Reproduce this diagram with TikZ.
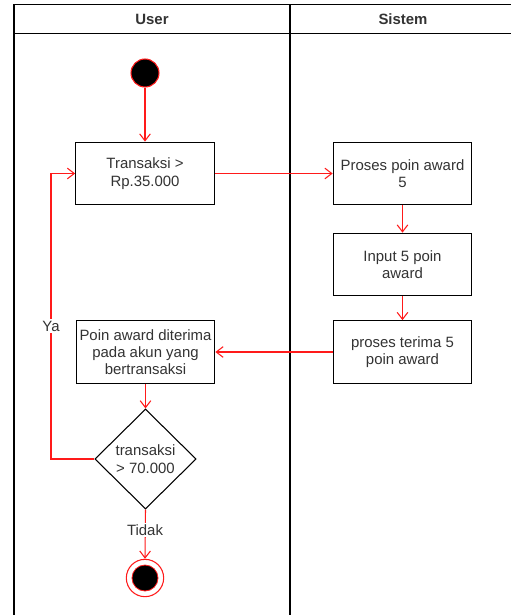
\documentclass[tikz,border=0pt]{standalone}
\usepackage{fontspec}
\setmainfont{Liberation Sans}
\usetikzlibrary{arrows.meta,shapes.geometric}
\definecolor{txt}{HTML}{333333}
\definecolor{flow}{HTML}{FF1A1A}
\begin{document}
\begin{tikzpicture}[x=0.75pt,y=-0.75pt,
  every node/.style={font=\fontsize{11.2pt}{13pt}\selectfont, text=txt},
  lane/.style={draw=black, line width=0.8pt},
  actbox/.style={draw=black, line width=0.8pt, fill=white, align=center,
    minimum width=104pt, minimum height=47pt, inner sep=2pt},
  decision/.style={draw=black, line width=0.8pt, fill=white, shape=diamond,
    aspect=1, align=center, inner sep=0pt,
    minimum width=76pt, minimum height=75pt},
  flowline/.style={draw=flow, line width=0.8pt},
  flowarrow/.style={flowline, -{Straight Barb[length=5.2pt,width=8pt,line width=0.8pt]}},
  guard/.style={fill=white, inner sep=1pt},
  lanehead/.style={font=\bfseries\fontsize{11.2pt}{13pt}\selectfont}
]
\useasboundingbox (0,0) rectangle (511,615);
\clip (0,0) rectangle (511,615);

% swimlane frame
\draw[lane] (14,640) -- (14,4.5) -- (530,4.5);
\draw[lane] (14,33.5) -- (530,33.5);
\draw[lane] (290,4.5) -- (290,640);
\node[lanehead] (hUser) at (152,19.5) {User};
\node[lanehead] (hSistem) at (403,19.5) {Sistem};

% start state
\node[circle, draw=flow, fill=black, line width=0.8pt, minimum size=21pt, inner sep=0pt] (start) at (145,73) {};

% activities
\node[actbox] (trans) at (145,173.5) {Transaksi >\\Rp.35.000};
\node[actbox] (proses) at (402.5,173.5) {Proses poin award\\5};
\node[actbox] (input) at (402.5,264.5) {Input 5 poin\\award};
\node[actbox] (terima) at (402.5,352) {proses terima 5\\poin award};
\node[actbox] (poin) at (145.5,352) {Poin award diterima\\pada akun yang\\bertransaksi};
\node[decision] (cek) at (145.5,459) {transaksi\\> 70.000};

% end state
\node[circle, draw=flow, fill=white, line width=0.8pt, minimum size=28pt, inner sep=0pt] (endo) at (145,578) {};
\node[circle, draw=flow, fill=black, line width=0.6pt, minimum size=19.5pt, inner sep=0pt] (endi) at (145,578) {};

% flow
\draw[flowarrow] (start) -- (trans);
\draw[flowarrow] (trans.east) -- (proses.west);
\draw[flowarrow] (proses) -- (input);
\draw[flowarrow] (input) -- (terima);
\draw[flowarrow] (terima.west) -- (poin.east);
\draw[flowarrow] (poin) -- (cek);

\coordinate (loopx) at (51,0);
\draw[flowarrow] (cek.west) -- (cek.west -| loopx) -- (trans.west -| loopx) -- (trans.west);
\node[guard] (ya) at (51,326) {Ya};

\draw[flowarrow] (cek.south) -- (endo.north);
\node[guard] (tidak) at (145,530) {Tidak};
\end{tikzpicture}
\end{document}
